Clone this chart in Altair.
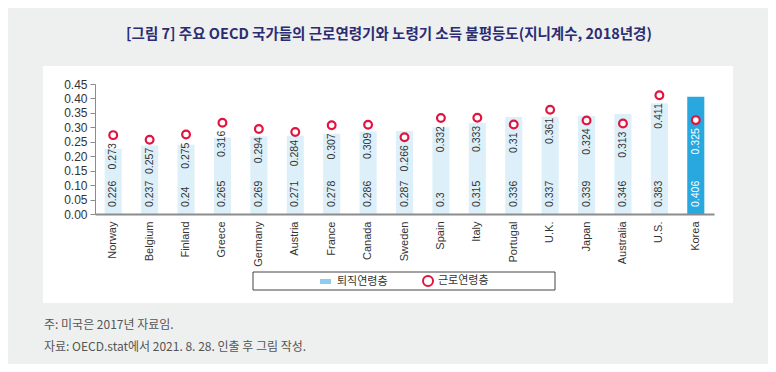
import altair as alt
import pandas as pd

countries = ["Norway", "Belgium", "Finland", "Greece", "Germany", "Austria", "France",
             "Canada", "Sweden", "Spain", "Italy", "Portugal", "U.K.", "Japan",
             "Australia", "U.S.", "Korea"]
retired = [0.226, 0.237, 0.24, 0.265, 0.269, 0.271, 0.278, 0.286, 0.287, 0.3,
           0.315, 0.336, 0.337, 0.339, 0.346, 0.383, 0.406]
working = [0.273, 0.257, 0.275, 0.316, 0.294, 0.284, 0.307, 0.309, 0.266, 0.332,
           0.333, 0.31, 0.361, 0.324, 0.313, 0.411, 0.325]
series_names = ["퇴직연령층", "근로연령층"]
y_ticks = [0.0, 0.05, 0.10, 0.15, 0.20, 0.25, 0.30, 0.35, 0.40, 0.45]
title_text = ["[그림 7] 주요 OECD 국가들의 근로연령기와 노령기 소득 불평등도(지니계수, 2018년경)"]
notes = ["주: 미국은 2017년 자료임.", "자료: OECD.stat에서 2021. 8. 28. 인출 후 그림 작성."]

df = pd.DataFrame({
    "country": countries,
    "retired": retired,
    "working": working,
    "retired_label": [str(v) for v in retired],
    "working_label": [str(v) for v in working],
    "s1": series_names[0],
    "s2": series_names[1],
})
one = pd.DataFrame({"k": [0]})

W, H = 619, 130
NUM_FONT = "Liberation Sans"
KR_FONT = "Noto Sans CJK KR"
is_korea = alt.datum.country == "Korea"

x_axis = alt.Axis(title=None, labelAngle=-90, ticks=False, domainColor="#8c8c8c",
                  domainWidth=2, labelFontSize=11, labelColor="#333333",
                  labelFont=NUM_FONT, labelPadding=7, labelOverlap=False, zindex=1)
x_scale = alt.Scale(paddingInner=0.53, paddingOuter=0.265)
y_scale = alt.Scale(domain=[0, 0.45], nice=False)
y_axis = alt.Axis(title=None, values=y_ticks, format=".2f", grid=False, domainColor="#8c8c8c",
                  tickColor="#8c8c8c", tickSize=5, labelFontSize=12, labelColor="#333333",
                  labelFont=NUM_FONT, labelPadding=3, labelOverlap=False, labelFlush=False,
                  zindex=1)


def xenc():
    return alt.X("country:N", sort=countries, scale=x_scale, axis=x_axis)


panel = alt.Chart(one).mark_rect(fill="white").encode(
    x=alt.value(-52), x2=alt.value(638), y=alt.value(-18), y2=alt.value(219))

bars = alt.Chart(df).mark_bar().encode(
    x=xenc(),
    y=alt.Y("retired:Q", scale=y_scale, axis=y_axis),
    fill=alt.condition(is_korea, alt.value("#29a8e0"),
                       alt.Fill("s1:N", scale=alt.Scale(domain=[series_names[0]], range=["#8ecdf0"]),
                                legend=alt.Legend(title=None, orient="none", legendX=224, legendY=191,
                                                  symbolType="M-1,-0.45L1,-0.45L1,0.45L-1,0.45Z",
                                                  symbolSize=121, labelFont=KR_FONT, labelFontSize=11,
                                                  labelColor="#333333", labelOffset=5, padding=0))),
    fillOpacity=alt.condition(is_korea, alt.value(1), alt.value(0.3)),
)

bar_labels = alt.Chart(df).mark_text(angle=270, align="left", baseline="middle", dx=7,
                                     fontSize=10.5, font=NUM_FONT).encode(
    x=xenc(),
    y=alt.YDatum(0, scale=y_scale, axis=y_axis),
    text="retired_label:N",
    color=alt.condition(is_korea, alt.value("white"), alt.value("#333333")),
)

points = alt.Chart(df).mark_point(shape="circle", filled=True, fill="white", size=60,
                                  strokeWidth=2.2, opacity=1).encode(
    x=xenc(),
    y=alt.Y("working:Q", scale=y_scale, axis=y_axis),
    stroke=alt.Stroke("s2:N", scale=alt.Scale(domain=[series_names[1]], range=["#e0143f"]),
                      legend=alt.Legend(title=None, orient="none", legendX=327, legendY=191,
                                        labelFont=KR_FONT, labelFontSize=11, labelColor="#333333",
                                        labelOffset=4, padding=0, symbolStrokeWidth=2)),
)

point_labels = alt.Chart(df).mark_text(angle=270, align="right", baseline="middle", dx=-8,
                                       fontSize=10.5, font=NUM_FONT).encode(
    x=xenc(),
    y=alt.Y("working:Q", scale=y_scale, axis=y_axis),
    text="working_label:N",
    color=alt.condition(is_korea, alt.value("white"), alt.value("#333333")),
)

legend_box = alt.Chart(one).mark_rect(fill="white", stroke="#444444", strokeWidth=1).encode(
    x=alt.value(158), x2=alt.value(460), y=alt.value(188), y2=alt.value(206))

title = alt.Chart(one).mark_text(text=title_text[0], font=KR_FONT, fontSize=14.5, fontWeight="bold",
                                 color="#2c2c74", align="center", baseline="middle").encode(
    x=alt.value(294), y=alt.value(-49))

note1 = alt.Chart(one).mark_text(text=notes[0], font=KR_FONT, fontSize=12, color="#555555",
                                 align="left", baseline="middle").encode(
    x=alt.value(-51), y=alt.value(241))
note2 = alt.Chart(one).mark_text(text=notes[1], font=KR_FONT, fontSize=12, color="#555555",
                                 align="left", baseline="middle").encode(
    x=alt.value(-51), y=alt.value(263))

chart = alt.layer(panel, bars, bar_labels, points, point_labels, legend_box, title, note1, note2).properties(
    width=W, height=H,
    autosize=alt.AutoSizeParams(type="none"),
    padding={"left": 87, "top": 76, "right": 54, "bottom": 150},
    background="#eef0ef",
).resolve_scale(fill="independent", stroke="independent").configure_view(stroke=None)

chart.save("out.html", embed_options={"renderer": "svg", "actions": False})
